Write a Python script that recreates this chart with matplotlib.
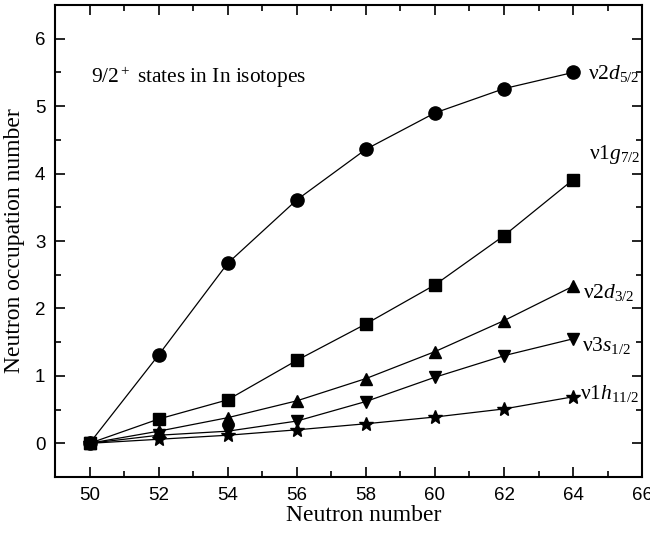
import numpy as np
import matplotlib
matplotlib.use("Agg")
import matplotlib.pyplot as plt
from matplotlib.ticker import MultipleLocator

plt.rcParams['font.family'] = ['Liberation Sans', 'DejaVu Sans']
plt.rcParams['mathtext.fontset'] = 'custom'
plt.rcParams['mathtext.rm'] = 'Liberation Serif'
plt.rcParams['mathtext.it'] = 'Liberation Serif:italic'

# neutron number
N = [50, 52, 54, 56, 58, 60, 62, 64]

# occupation numbers
d52 = [0.0, 1.31, 2.67, 3.61, 4.36, 4.90, 5.26, 5.50]
g72 = [0.0, 0.36, 0.645, 1.23, 1.77, 2.35, 3.08, 3.91]
d32 = [0.0, 0.18, 0.38, 0.63, 0.96, 1.36, 1.82, 2.33]
s12 = [0.0, 0.12, 0.18, 0.33, 0.62, 0.98, 1.30, 1.55]
h112 = [0.0, 0.06, 0.12, 0.20, 0.29, 0.39, 0.51, 0.69]

labels = [r'ν2$\mathit{d}_{5/2}$', r'ν1$\mathit{g}_{7/2}$', r'ν2$\mathit{d}_{3/2}$',
          r'ν3$\mathit{s}_{1/2}$', r'ν1$\mathit{h}_{11/2}$']
# label positions (data coords)
lab_x = [64.43, 64.46, 64.29, 64.26, 64.2]
lab_y = [5.40, 4.22, 2.16, 1.37, 0.66]

fig = plt.figure(figsize=(6.5, 5.33), dpi=100)
ax = fig.add_axes([0.0846, 0.105, 0.9034, 0.8856])

series = [d52, g72, d32, s12, h112]
markers = ['o', 's', '^', 'v', '*']
msizes = [9.5, 8, 9, 9, 10]
for y, m, ms in zip(series, markers, msizes):
    ax.plot(N, y, color='black', lw=0.9, marker=m, ms=ms, mfc='black', mec='black')

for t, x, y in zip(labels, lab_x, lab_y):
    ax.text(x, y, t, fontsize=15.5, family='Liberation Serif', ha='left', va='baseline')

ax.text(50.04, 5.34, r'9/2$^+$ states in In isotopes', fontsize=15.4,
        family='Liberation Serif', ha='left', va='baseline')

ax.set_xlim(49, 66)
ax.set_ylim(-0.5, 6.5)
ax.xaxis.set_major_locator(MultipleLocator(2))
ax.xaxis.set_minor_locator(MultipleLocator(1))
ax.yaxis.set_major_locator(MultipleLocator(1))
ax.yaxis.set_minor_locator(MultipleLocator(0.5))

ax.tick_params(which='both', direction='in', top=True, right=True, width=1.2,
               labelsize=13.5)
ax.tick_params(which='major', length=7, pad=7)
ax.tick_params(which='minor', length=4)
for sp in ax.spines.values():
    sp.set_linewidth(1.5)

ax.set_xlabel('Neutron number', fontsize=17, family='Liberation Serif')
ax.set_ylabel('Neutron occupation number', fontsize=17, family='Liberation Serif')
ax.xaxis.set_label_coords(0.526, -0.059)
ax.yaxis.set_label_coords(-0.051, 0.5)

fig.savefig('out.png', dpi=100)
